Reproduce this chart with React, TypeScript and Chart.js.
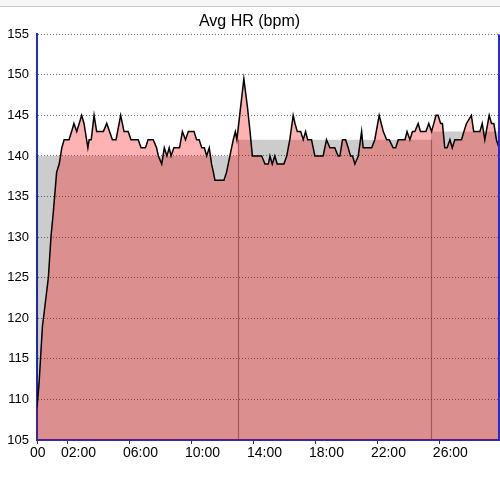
import React, { useEffect, useRef } from "react";
import { Chart, registerables } from "chart.js";

Chart.register(...registerables);

// Heart-rate samples: time (s) and bpm
const hrTimes = [
  0, 8, 21, 25, 44, 54, 63, 76, 86, 96, 105, 124, 134, 143, 154, 173, 182, 197, 202, 210,
  221, 231, 257, 270, 292, 306, 324, 337, 353, 364, 392, 403, 420, 430, 450, 463, 470, 483,
  493, 503, 512, 519, 530, 552, 563, 575, 586, 608, 618, 628, 638, 648, 657, 667, 676, 683,
  689, 724, 734, 747, 760, 768, 774, 801, 815, 825, 834, 870, 883, 896, 902, 911, 921, 930,
  956, 967, 979, 992, 999, 1008, 1021, 1031, 1040, 1048, 1063, 1076, 1108, 1121, 1134, 1153,
  1166, 1173, 1183, 1195, 1205, 1214, 1222, 1231, 1244, 1257, 1263, 1296, 1308, 1325, 1341,
  1354, 1364, 1379, 1389, 1399, 1425, 1433, 1444, 1454, 1463, 1476, 1485, 1506, 1517, 1528,
  1545, 1553, 1563, 1570, 1579, 1588, 1599, 1608, 1618, 1644, 1653, 1663, 1682, 1691, 1715,
  1724, 1734, 1751, 1760, 1769, 1779, 1789,
];
const hrValues = [
  109, 112, 119, 120, 125, 130, 133, 138, 139, 141, 142, 142, 143, 144, 143, 145, 144, 141, 142, 142,
  145, 143, 143, 144, 142, 142, 145, 143, 143, 142, 142, 141, 141, 142, 142, 141, 140, 139,
  141, 140, 141, 140, 141, 141, 143, 142, 143, 143, 142, 142, 141, 141, 140, 141, 139, 138,
  137, 137, 138, 140, 142, 143, 142, 149.5, 146, 143, 140, 140, 139, 139, 140, 139, 140, 139,
  139, 140, 142, 145, 144, 143, 143, 142, 143, 142, 142, 140, 140, 142, 141, 141,
  140, 140, 142, 142, 141, 140, 140, 139, 140, 143, 141, 141, 142, 145, 143,
  142, 142, 141, 141, 142, 142, 143, 142, 143, 143, 144, 143, 143, 144, 143,
  145, 145, 144, 144, 141, 141, 142, 141, 142, 142, 143, 144, 145, 143, 143,
  144, 142, 145, 144, 144, 142, 141,
];

// Laps: start time (s) and average bpm
const lapStarts = [0, 778, 1525];
const lapAvg = [140, 142, 143];
const endTime = 1789;

// Axis ticks
const xTickValues = [0, 120, 360, 600, 840, 1080, 1320, 1560];
const xTickLabels = ["00", "02:00", "06:00", "10:00", "14:00", "18:00", "22:00", "26:00"];
const yMin = 105;
const yMax = 155;
const yStep = 5;

const AXIS_BLUE = "#2a2ac4";

export default function App() {
  const canvasRef = useRef<HTMLCanvasElement | null>(null);

  useEffect(() => {
    document.body.style.margin = "0";
    const canvas = canvasRef.current;
    if (!canvas) return;

    const hrData = hrTimes.map((t, i) => ({ x: t, y: hrValues[i] }));
    const lapData = lapStarts.map((t, i) => ({ x: t, y: lapAvg[i] }));
    lapData.push({ x: endTime, y: lapAvg[lapAvg.length - 1] });

    const extras = {
      id: "extras",
      afterDatasetsDraw(chart: any) {
        const { ctx, chartArea, scales } = chart;
        const xs = scales.x;
        const ys = scales.y;
        ctx.save();
        // lap boundary markers around the middle lap
        ctx.strokeStyle = "rgba(120,40,40,0.55)";
        ctx.lineWidth = 1.2;
        const mid = 1;
        [lapStarts[mid], lapStarts[mid + 1]].forEach((t) => {
          const px = Math.round(xs.getPixelForValue(t)) + 0.5;
          ctx.beginPath();
          ctx.moveTo(px, ys.getPixelForValue(yMin));
          ctx.lineTo(px, ys.getPixelForValue(lapAvg[mid]));
          ctx.stroke();
        });
        // right border
        ctx.strokeStyle = AXIS_BLUE;
        ctx.lineWidth = 2;
        ctx.beginPath();
        ctx.moveTo(chartArea.right, chartArea.top);
        ctx.lineTo(chartArea.right, chartArea.bottom);
        ctx.stroke();
        ctx.restore();
      },
    };

    const chart = new Chart(canvas, {
      type: "line",
      data: {
        datasets: [
          {
            label: "HR",
            data: hrData,
            borderColor: "#000",
            borderWidth: 1.5,
            backgroundColor: "rgba(255,0,0,0.3)",
            fill: "start",
            pointRadius: 0,
            tension: 0,
            order: 0,
          },
          {
            label: "Lap avg",
            data: lapData,
            stepped: "before",
            borderWidth: 0,
            borderColor: "rgba(0,0,0,0)",
            backgroundColor: "rgba(0,0,0,0.2)",
            fill: "start",
            pointRadius: 0,
            order: 1,
          },
        ],
      },
      options: {
        animation: false,
        responsive: false,
        layout: { padding: { left: 0, right: 1, top: 0, bottom: 0 } },
        plugins: {
          legend: { display: false },
          tooltip: { enabled: false },
          title: {
            display: true,
            text: "Avg HR (bpm)",
            color: "#000",
            font: { family: "'Liberation Sans', Arial, sans-serif", size: 16, weight: "normal" },
            padding: { top: 12, bottom: 3 },
          },
        },
        scales: {
          x: {
            type: "linear",
            min: 0,
            max: endTime,
            afterBuildTicks(scale: any) {
              scale.ticks = xTickValues.map((v) => ({ value: v }));
            },
            afterFit(scale: any) {
              scale.height = 60;
            },
            ticks: {
              autoSkip: false,
              maxRotation: 0,
              align: "start",
              labelOffset: -7,
              padding: 1,
              color: "#000",
              font: { family: "'Liberation Sans', Arial, sans-serif", size: 14 },
              callback: (value: any) => {
                const i = xTickValues.indexOf(Number(value));
                return i >= 0 ? xTickLabels[i] : "";
              },
            },
            grid: {
              display: true,
              drawOnChartArea: false,
              drawTicks: true,
              tickLength: 4,
              tickColor: "#333",
            },
            border: { display: true, color: AXIS_BLUE, width: 2 },
          },
          y: {
            min: yMin,
            max: yMax,
            afterFit(scale: any) {
              scale.width = 37;
            },
            ticks: {
              stepSize: yStep,
              padding: 8,
              color: "#000",
              font: { family: "'Liberation Sans', Arial, sans-serif", size: 13 },
            },
            grid: {
              color: "rgba(0,0,0,0.55)",
              lineWidth: 1,
              drawTicks: false,
            },
            border: { display: true, color: AXIS_BLUE, width: 2, dash: [1, 2] },
          },
        },
      },
      plugins: [extras],
    });

    return () => chart.destroy();
  }, []);

  return (
    <div style={{ position: "fixed", left: 0, top: 0, width: 500, height: 500, background: "#fff" }}>
      <canvas ref={canvasRef} width={500} height={500} style={{ width: 500, height: 500, display: "block" }} />
      <div
        style={{
          position: "absolute",
          left: 0,
          top: 0,
          width: 500,
          height: 6,
          background: "#f7f7f7",
          borderBottom: "1px solid #c8c8c8",
        }}
      />
    </div>
  );
}
